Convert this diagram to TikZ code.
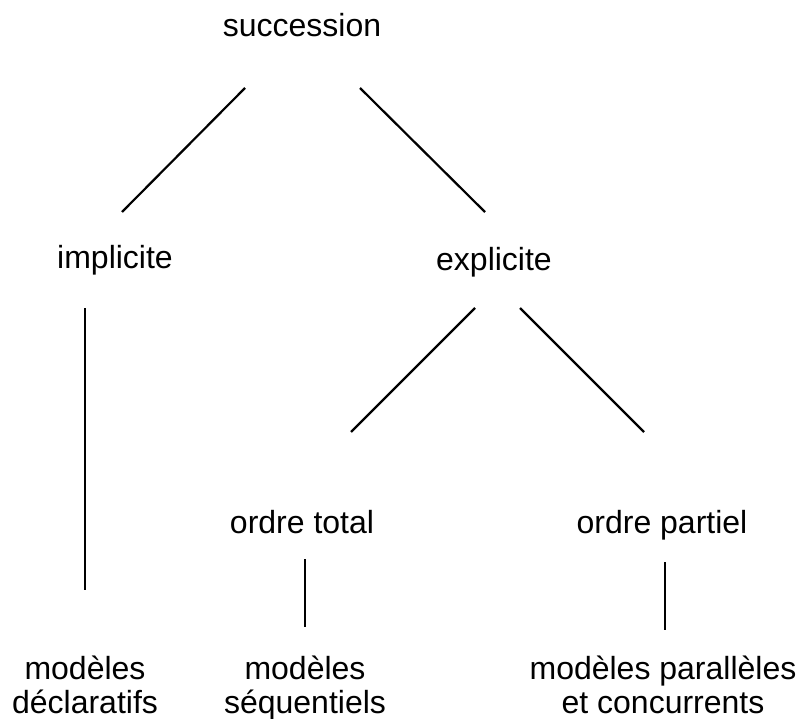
\documentclass[tikz,border=0pt]{standalone}
\usepackage{fontspec}
\setmainfont{Liberation Sans}
\usetikzlibrary{calc}
\begin{document}
\begin{tikzpicture}[x=1pt,y=-1pt,
  label/.style={inner sep=0pt, anchor=base, align=center, font=\fontsize{32}{34}\selectfont},
  branch/.style={line width=2.2pt, black}]
\useasboundingbox (0,0) rectangle (800,719);
% the tree
\node[label] (succession) at (302,37) {succession};
\node[label] (implicite) at (115,269) {implicite};
\node[label] (explicite) at (494,270) {explicite};
\node[label] (total) at (302,533) {ordre total};
\node[label] (partiel) at (662,533) {ordre partiel};
% two-line leaves: base is the last line
\node[label] (declaratifs) at (85,713) {modèles\\déclaratifs};
\node[label] (sequentiels) at (305,713) {modèles\\séquentiels};
\node[label] (paralleles) at (663,713) {modèles parallèles\\et concurrents};
\draw[branch] ($(succession.base)+(-57,51)$) -- ($(implicite.base)+(7,-57)$);
\draw[branch] ($(succession.base)+(58,51)$) -- ($(explicite.base)+(-9,-58)$);
\draw[branch] ($(implicite.base)+(-30,39)$) -- ($(declaratifs.base)+(0,-123)$);
\draw[branch] ($(explicite.base)+(-19,38)$) -- ($(total.base)+(49,-101)$);
\draw[branch] ($(explicite.base)+(26,38)$) -- ($(partiel.base)+(-18,-101)$);
\draw[branch] ($(total.base)+(3,26)$) -- ($(sequentiels.base)+(0,-86)$);
\draw[branch] ($(partiel.base)+(3,29)$) -- ($(paralleles.base)+(2,-83)$);
\end{tikzpicture}
\end{document}
